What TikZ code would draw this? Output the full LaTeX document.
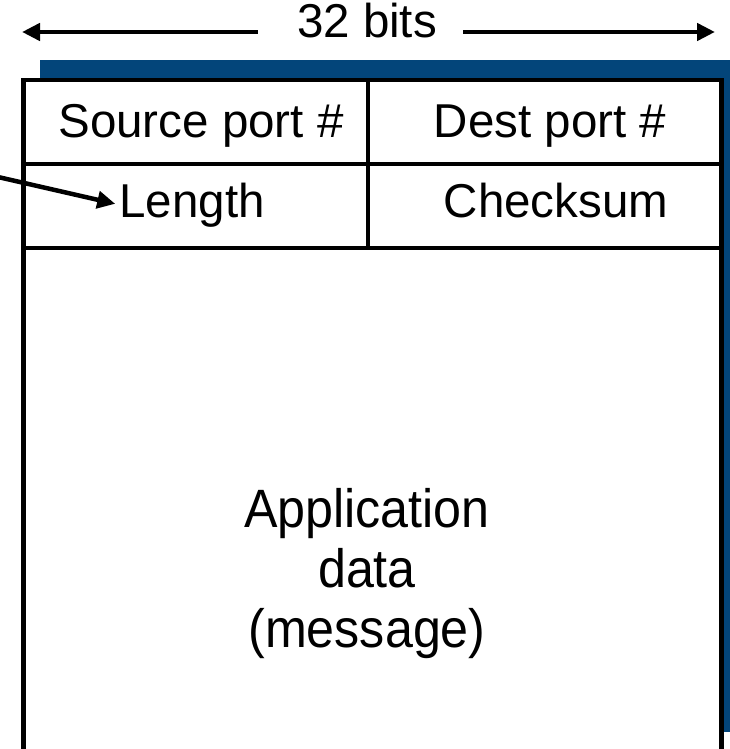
\documentclass[tikz,border=0pt]{standalone}
\usepackage{fontspec}
\setmainfont{Liberation Sans}
\newfontfamily\datafont[FakeStretch=0.93]{Liberation Sans}
\usetikzlibrary{arrows.meta}
\definecolor{shadowblue}{RGB}{3,69,122}

\begin{document}
\begin{tikzpicture}[x=1pt,y=-1pt]

  \tikzstyle{field} = [inner sep=0pt, anchor=base, font=\fontsize{47.5}{54}\selectfont]
  \tikzstyle{payload} = [inner sep=0pt, align=center, font=\datafont\fontsize{54}{60}\selectfont]
  \tikzstyle{grid} = [line width=4.8pt]
  \tikzstyle{arrow} = [line width=4.5pt, -{Triangle[length=18pt,width=17pt]}]

  \useasboundingbox (0,0) rectangle (730,749);

  % Segment box and its shadow
  \fill[shadowblue] (40,60) rectangle (730,732);
  \draw[grid, fill=white] (23.5,749) -- (23.5,80) -- (721.5,80) -- (721.5,749);
  \draw[grid] (23.5,164) -- (721.5,164);
  \draw[grid] (23.5,248) -- (721.5,248);
  \draw[grid] (368,80) -- (368,248);

  % Nodes
  \node (bits) [field] at (367,38) {32 bits};
  \node (src) [field] at (201,137) {Source port \#};
  \node (dst) [field] at (550,137) {Dest port \#};
  \node (len) [field] at (192,217) {Length};
  \node (chk) [field] at (556,217) {Checksum};
  \node (data) [payload] at (367,574) {Application\\data\\(message)};

  \coordinate (lefttip) at (22,32);
  \coordinate (righttip) at (715,32);
  \coordinate (lenfrom) at (-2,177);

  % Arrows
  \draw [arrow, shorten <=39pt] (bits.base west |- lefttip) -- (lefttip);
  \draw [arrow, shorten <=26pt] (bits.base east |- righttip) -- (righttip);
  \draw [arrow, shorten >=4pt] (lenfrom) -- (len.west);
\end{tikzpicture}
\end{document}
